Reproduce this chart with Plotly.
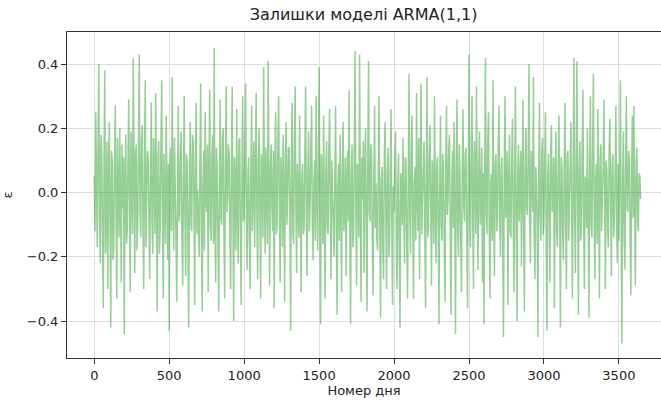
import plotly.graph_objects as go

# Residuals of the ARMA(1,1) model, sampled every 5 days (20 values per 100 days)
day_step = 5
residuals = [
    0.05, -0.12, 0.25, 0.02, -0.17, 0.14, 0.40, -0.06, -0.22, 0.18, 0.12, -0.15, -0.36, 0.09, 0.38, -0.19, -0.08, 0.16, -0.30, 0.07,
    0.22, -0.09, -0.42, 0.13, 0.10, -0.21, -0.18, 0.08, 0.27, -0.04, -0.33, 0.17, 0.04, -0.14, 0.20, -0.11, -0.28, 0.15, -0.05, 0.11,
    -0.44, 0.03, 0.18, -0.16, -0.12, 0.10, 0.29, -0.07, -0.31, 0.19, 0.06, -0.13, 0.42, -0.02, -0.25, 0.12, 0.15, -0.18, -0.09, 0.14,
    0.43, -0.05, -0.14, 0.16, 0.21, -0.10, -0.30, 0.08, 0.35, -0.17, -0.02, 0.13, 0.11, -0.20, -0.27, 0.04, 0.28, -0.08, -0.19, 0.17,
    0.08, -0.13, 0.31, -0.03, -0.37, 0.11, 0.16, -0.19, -0.11, 0.15, 0.35, -0.07, -0.33, 0.12, 0.02, -0.16, 0.24, 0.01, -0.21, 0.09,
    -0.43, 0.06, 0.14, -0.12, 0.36, -0.01, -0.18, 0.17, 0.05, -0.14, -0.34, 0.10, 0.27, -0.09, -0.07, 0.13, 0.19, -0.15, -0.29, 0.04,
    0.30, -0.08, -0.26, 0.12, 0.09, -0.17, -0.42, 0.05, 0.22, -0.10, -0.12, 0.18, 0.16, -0.04, -0.35, 0.14, 0.28, -0.13, 0.01, -0.11,
    -0.20, 0.09, 0.34, -0.14, -0.37, 0.03, 0.13, -0.18, 0.25, -0.02, -0.06, 0.15, -0.31, 0.07, 0.32, -0.10, -0.15, 0.12, 0.18, -0.16,
    0.45, -0.11, -0.28, 0.14, 0.07, -0.15, -0.37, 0.02, 0.29, -0.08, -0.10, 0.17, 0.20, -0.13, -0.33, 0.10, 0.33, -0.06, -0.02, 0.15,
    0.12, -0.14, -0.30, 0.09, 0.33, -0.05, -0.40, 0.11, 0.04, -0.18, 0.26, -0.03, -0.22, 0.16, 0.17, -0.12, -0.35, 0.06, 0.30, -0.09,
    -0.08, 0.13, 0.34, -0.10, -0.24, 0.05, 0.11, -0.15, -0.30, 0.08, 0.27, -0.12, 0.02, 0.16, -0.17, 0.04, 0.31, -0.07, -0.27, 0.10,
    0.20, -0.06, -0.33, 0.12, 0.08, -0.14, 0.39, 0.02, -0.19, 0.14, -0.05, -0.16, 0.41, -0.09, -0.29, 0.07, 0.15, -0.04, -0.12, 0.13,
    -0.36, 0.08, 0.25, -0.13, -0.10, 0.16, 0.30, -0.05, -0.28, 0.11, 0.06, -0.17, 0.18, -0.02, -0.34, 0.12, 0.22, -0.10, -0.03, 0.14,
    0.14, -0.07, -0.43, 0.10, 0.28, -0.12, -0.16, 0.15, 0.33, -0.04, -0.25, 0.09, 0.01, -0.14, 0.24, -0.08, -0.31, 0.05, 0.09, -0.13,
    -0.11, 0.12, 0.33, -0.08, -0.26, 0.06, 0.19, -0.12, -0.04, 0.14, 0.27, -0.10, -0.21, 0.03, 0.10, -0.15, 0.30, 0.01, -0.18, 0.08,
    0.39, -0.03, -0.41, 0.12, 0.05, -0.16, 0.24, -0.09, -0.33, 0.07, 0.16, -0.11, -0.13, 0.14, 0.26, -0.06, -0.27, 0.10, 0.02, -0.14,
    -0.20, 0.05, 0.27, -0.11, -0.38, 0.02, 0.09, -0.15, 0.18, -0.06, -0.31, 0.08, 0.22, -0.12, -0.07, 0.11, -0.26, 0.04, 0.13, -0.09,
    0.32, -0.10, -0.41, 0.06, 0.15, -0.17, -0.12, 0.13, 0.44, -0.05, -0.29, 0.09, 0.07, -0.14, 0.43, -0.03, -0.34, 0.11, -0.02, 0.16,
    -0.25, 0.07, 0.20, -0.13, -0.37, 0.10, 0.41, -0.06, -0.09, 0.15, 0.12, -0.16, -0.32, 0.04, 0.27, -0.11, 0.03, -0.15, -0.18, 0.09,
    0.30, -0.12, -0.39, 0.04, 0.08, -0.18, -0.27, 0.11, 0.22, -0.07, -0.30, 0.06, 0.14, -0.20, -0.14, 0.09, 0.26, -0.10, -0.35, 0.02,
    -0.06, 0.08, 0.19, -0.15, -0.30, 0.02, 0.12, -0.19, -0.42, 0.06, 0.04, -0.10, 0.17, -0.04, -0.22, 0.11, 0.10, -0.17, -0.33, 0.05,
    0.37, -0.08, -0.19, 0.14, 0.24, -0.11, -0.33, 0.03, 0.08, -0.15, 0.31, -0.02, -0.12, 0.17, -0.27, 0.06, 0.34, -0.13, -0.04, 0.12,
    0.16, -0.09, -0.36, 0.07, 0.36, -0.14, -0.10, 0.13, 0.21, -0.05, -0.29, 0.10, 0.03, -0.16, 0.30, -0.02, -0.22, 0.08, 0.11, -0.12,
    -0.41, 0.04, 0.24, -0.10, -0.15, 0.12, 0.07, -0.18, -0.34, 0.09, 0.27, -0.07, -0.03, 0.14, 0.18, -0.13, -0.38, 0.01, 0.13, -0.11,
    0.22, -0.06, -0.44, 0.09, 0.29, -0.12, -0.20, 0.15, 0.05, -0.17, -0.31, 0.08, 0.26, -0.04, -0.09, 0.12, 0.14, -0.14, -0.36, 0.03,
    0.43, -0.04, -0.17, 0.11, 0.30, -0.09, -0.30, 0.16, 0.09, -0.13, 0.33, -0.01, -0.24, 0.07, 0.19, -0.10, -0.05, 0.14, -0.28, 0.06,
    -0.41, 0.10, 0.42, -0.07, -0.13, 0.16, 0.25, -0.11, -0.33, 0.03, 0.06, -0.15, 0.35, -0.05, -0.26, 0.09, 0.12, -0.12, -0.08, 0.14,
    0.27, -0.10, -0.20, 0.08, 0.11, -0.16, -0.45, 0.05, 0.30, -0.08, -0.02, 0.13, -0.35, 0.02, 0.18, -0.12, -0.14, 0.10, 0.23, -0.07,
    -0.31, 0.07, 0.33, -0.12, -0.40, 0.04, 0.15, -0.09, 0.02, 0.13, -0.23, 0.06, 0.29, -0.15, -0.37, 0.10, 0.20, -0.05, -0.07, 0.12,
    0.40, -0.09, -0.22, 0.13, 0.10, -0.06, 0.36, -0.14, -0.27, 0.08, 0.05, -0.11, -0.45, 0.03, 0.28, -0.07, -0.15, 0.12, 0.17, -0.13,
    -0.10, 0.09, 0.25, -0.14, -0.43, 0.05, 0.12, -0.08, -0.28, 0.14, 0.21, -0.06, -0.01, 0.11, -0.36, 0.02, 0.19, -0.12, -0.17, 0.08,
    0.24, -0.05, -0.42, 0.11, 0.08, -0.13, -0.21, 0.06, 0.28, -0.10, -0.30, 0.12, 0.13, -0.15, -0.06, 0.09, 0.22, -0.07, -0.33, 0.04,
    0.42, -0.08, -0.25, 0.10, 0.41, -0.04, -0.38, 0.07, 0.16, -0.15, -0.12, 0.13, 0.32, -0.09, -0.30, 0.05, 0.04, -0.11, 0.20, -0.03,
    -0.39, 0.06, 0.30, -0.10, -0.14, 0.12, 0.37, -0.07, -0.27, 0.04, 0.09, -0.16, 0.26, -0.02, -0.33, 0.11, 0.15, -0.12, -0.04, 0.08,
    0.29, -0.06, -0.30, 0.10, 0.07, -0.12, -0.17, 0.14, 0.23, -0.03, -0.26, 0.08, 0.12, -0.14, -0.09, 0.05, 0.27, -0.10, -0.22, 0.09,
    -0.15, 0.06, 0.35, -0.09, -0.47, 0.03, 0.19, -0.12, -0.24, 0.10, 0.30, -0.05, -0.06, 0.13, 0.11, -0.14, -0.32, 0.07, 0.24, -0.08,
    0.27, -0.04, -0.29, 0.09, 0.14, -0.10, -0.12, 0.06, 0.05, -0.02,
]
days = [i * day_step for i in range(len(residuals))]

x_ticks = [0, 500, 1000, 1500, 2000, 2500, 3000, 3500]
y_ticks = [-0.4, -0.2, 0.0, 0.2, 0.4]

font_family = "DejaVu Sans, sans-serif"
text_color = "#222222"

fig = go.Figure(
    go.Scatter(
        x=days,
        y=residuals,
        mode="lines",
        line=dict(color="rgba(44,160,44,0.5)", width=1.5),
        showlegend=False,
    )
)

axis_common = dict(
    showgrid=True,
    gridcolor="#dcdcdc",
    gridwidth=1,
    zeroline=False,
    showline=True,
    linecolor="#333333",
    linewidth=1,
    ticks="outside",
    ticklen=5,
    tickcolor="#333333",
    tickfont=dict(family=font_family, size=13, color=text_color),
)

fig.update_xaxes(
    **axis_common,
    range=[-182, 3781],
    tickvals=x_ticks,
    ticktext=[str(v) for v in x_ticks],
    mirror=True,
    title=dict(text="Номер дня", font=dict(family=font_family, size=13, color=text_color), standoff=4),
)
fig.update_yaxes(
    **axis_common,
    range=[-0.515, 0.5],
    tickvals=y_ticks,
    tickformat=".1f",
    title=dict(text="ε", font=dict(family=font_family, size=13, color=text_color), standoff=12),
)

fig.update_layout(
    width=661,
    height=401,
    margin=dict(l=67, r=0, t=32, b=43),
    paper_bgcolor="white",
    plot_bgcolor="white",
    title=dict(
        text="Залишки моделі ARMA(1,1)",
        font=dict(family=font_family, size=16, color=text_color),
        x=0.55,
        xanchor="center",
        y=0.965,
        yanchor="middle",
    ),
)

fig.write_html("out.html")
